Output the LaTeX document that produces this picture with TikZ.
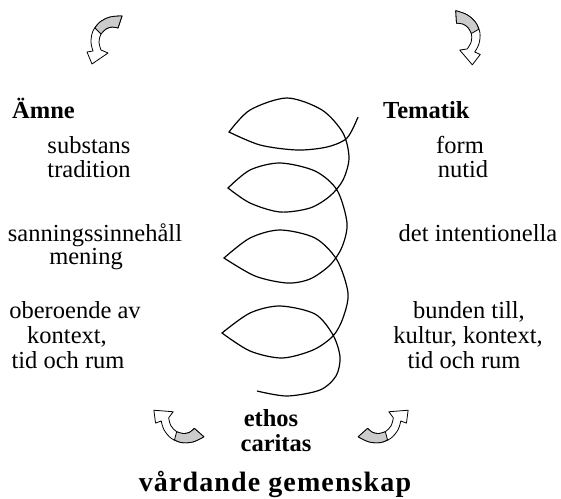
\documentclass[tikz,border=0pt]{standalone}
\usepackage{fontspec}
\setmainfont{Liberation Serif}
\newcommand\curvarrowshape{%
  \filldraw[arrowband] plot[smooth,tension=0.6] coordinates {(16,-24)(4,-23)(-6,-18)(-13,-9)(-15,2)(-13,11)} -- (-19,12) -- (-14,24) -- (2,13)
    -- plot[smooth,tension=0.6] coordinates {(-5,10)(-7,2)(-5,-6)(0,-11)(6,-13)(12,-12)} -- cycle;
  \filldraw[arrowband,fill=black!20] plot[smooth,tension=0.6] coordinates {(16,-24)(4,-23)(-6,-18)(-11,-12)}
    -- plot[smooth,tension=0.6] coordinates {(-5,-6)(0,-11)(6,-13)(12,-12)} -- cycle;
}
\begin{document}
\begin{tikzpicture}[x=1pt,y=-1pt,
  txt/.style={inner sep=0pt,font=\fontsize{24.5}{26}\selectfont},
  btxt/.style={txt,font=\fontsize{24.5}{26}\selectfont\bfseries},
  spiral/.style={line width=1.2pt,line join=miter},
  arrowband/.style={draw=black,fill=white,line width=0.8pt,line join=round}]
\useasboundingbox (0,0) rectangle (561,498);
% left column
\node[btxt,anchor=base west] (amne) at (12,118) {Ämne};
\node[txt,anchor=base] (l1) at (89,153) {substans};
\node[txt,anchor=base] (l2) at (89,177) {tradition};
\node[txt,anchor=base] (l3) at (95,241) {sanningssinnehåll};
\node[txt,anchor=base] (l4) at (86,264) {mening};
\node[txt,anchor=base] (l5) at (75,318) {oberoende av};
\node[txt,anchor=base] (l6) at (67,343) {kontext,};
\node[txt,anchor=base] (l7) at (68,368) {tid och rum};
% right column
\node[btxt,anchor=base west] (tematik) at (383,118) {Tematik};
\node[txt,anchor=base] (r1) at (460,153) {form};
\node[txt,anchor=base] (r2) at (463,177) {nutid};
\node[txt,anchor=base] (r3) at (478,241) {det intentionella};
\node[txt,anchor=base] (r4) at (469,318) {bunden till,};
\node[txt,anchor=base] (r5) at (468,343) {kultur, kontext,};
\node[txt,anchor=base] (r6) at (464,368) {tid och rum};
% bottom
\node[btxt,anchor=base] (ethos) at (271,426) {ethos};
\node[btxt,anchor=base] (caritas) at (276,451) {caritas};
\node[btxt,anchor=base,font=\fontsize{28}{30}\selectfont\bfseries] (vard) at (275,491) {\addfontfeature{LetterSpace=4}vårdande gemenskap};
% spiral
\draw[spiral]
  plot[smooth] coordinates {(358,117)(347,138)(327,147)(297,150)(260,145)(229,132)}
  -- plot[smooth] coordinates {(229,132)(250,110)(287,98)(322,110)(343,133)(349,158)(343,180)(330,196)(310,208)(280,212)(250,203)(228,188)}
  -- plot[smooth] coordinates {(228,188)(250,170)(280,163)(315,171)(337,190)(347,223)(342,247)(330,265)(310,279)(287,283)(255,276)(224,258)}
  -- plot[smooth] coordinates {(224,258)(250,238)(280,230)(315,238)(337,260)(348,293)(343,318)(333,336)(313,350)(282,358)(250,351)(222,333)}
  -- plot[smooth] coordinates {(222,333)(250,313)(280,306)(315,314)(333,335)(340,357)(336,376)(320,390)(287,396)(257,391)};
% curved block arrows
\begin{scope}[shift={(106,40)}]\curvarrowshape\end{scope}
\begin{scope}[shift={(465,38)},rotate=-15,xscale=-1]\curvarrowshape\end{scope}
\begin{scope}[shift={(178,424)},rotate=30,yscale=-1]\curvarrowshape\end{scope}
\begin{scope}[shift={(384,424)},xscale=-1,rotate=30,yscale=-1]\curvarrowshape\end{scope}
\end{tikzpicture}
\end{document}
